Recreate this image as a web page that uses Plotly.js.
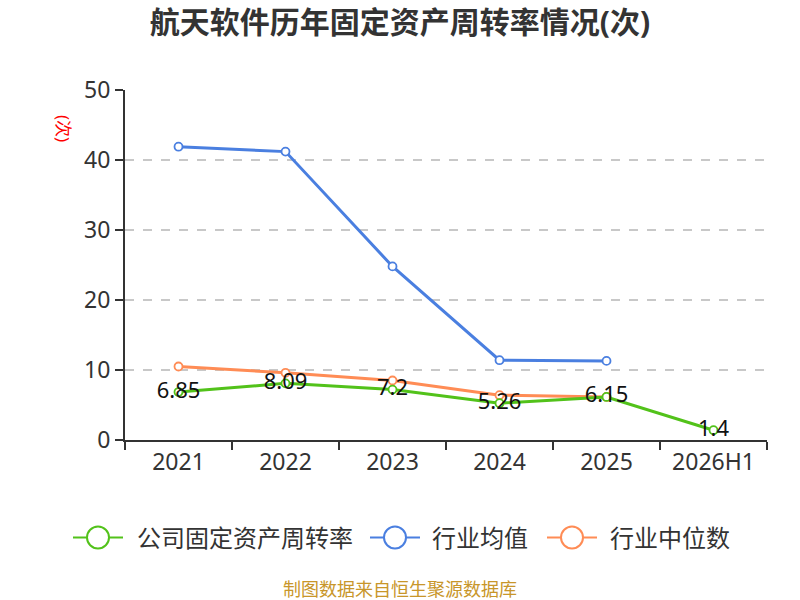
<!DOCTYPE html>
<html>
<head>
<meta charset="utf-8">
<script src="https://cdn.plot.ly/plotly-3.0.1.min.js"></script>
<style>html,body{margin:0;padding:0;background:#fff;}#chart{width:800px;height:600px;}</style>
</head>
<body>
<div id="chart"></div>
<script>
var categories = ["2021", "2022", "2023", "2024", "2025", "2026H1"];
var companyValues = [6.85, 8.09, 7.2, 5.26, 6.15, 1.4];
var industryAvg = [41.9, 41.2, 24.8, 11.4, 11.3, null];
var industryMedian = [10.5, 9.6, 8.5, 6.4, 6.15, null];
var seriesNames = ["公司固定资产周转率", "行业均值", "行业中位数"];
var yTicks = [0, 10, 20, 30, 40, 50];

var FONT = "Noto Sans, Noto Sans CJK SC, sans-serif";
var colors = ["#52c21a", "#4a7fe0", "#ff8c55"];

var M = {l: 125, r: 33, t: 90, b: 160};
var W = 800, H = 600;
var PW = W - M.l - M.r, PH = H - M.t - M.b;
function px2x(p) { return (p - M.l) / PW; }
function px2y(p) { return (H - M.b - p) / PH; }

function mk(name, y, color, withText) {
  var t = {
    type: "scatter", mode: withText ? "lines+markers+text" : "lines+markers",
    name: name, x: categories, y: y, showlegend: false,
    line: {color: color, width: 3},
    marker: {symbol: "circle", size: 8, color: "#ffffff", line: {color: color, width: 1.8}},
    cliponaxis: false
  };
  if (withText) {
    t.text = y.map(function(v){ return String(v); });
    t.textposition = "middle center";
    t.textfont = {family: FONT, size: 22, color: "#111"};
  }
  return t;
}

var data = [
  mk(seriesNames[1], industryAvg, colors[1], false),
  mk(seriesNames[2], industryMedian, colors[2], false),
  mk(seriesNames[0], companyValues, colors[0], true)
];

// custom legend (symbol start px, text start px)
var legendSlots = [[73, 135], [370, 430], [547, 608]];
var legendY = 537.5;
var shapes = [], annotations = [];
seriesNames.forEach(function(name, i) {
  var s = legendSlots[i][0];
  shapes.push({type: "line", xref: "paper", yref: "paper", x0: px2x(s), x1: px2x(s + 50),
               y0: px2y(legendY), y1: px2y(legendY), line: {color: colors[i], width: 2}});
  shapes.push({type: "circle", xref: "paper", yref: "paper", xsizemode: "pixel", ysizemode: "pixel",
               xanchor: px2x(s + 25), yanchor: px2y(legendY), x0: -11, x1: 11, y0: -11, y1: 11,
               fillcolor: "#ffffff", line: {color: colors[i], width: 2}});
  annotations.push({text: name, xref: "paper", yref: "paper", x: px2x(legendSlots[i][1]), xanchor: "left",
                    y: px2y(legendY), yanchor: "middle", showarrow: false,
                    font: {family: FONT, size: 24, color: "#333"}});
});

annotations.push({text: "(次)", xref: "paper", yref: "paper", x: px2x(63), xanchor: "center", y: px2y(128), yanchor: "middle",
     textangle: 90, showarrow: false, font: {family: FONT, size: 17, color: "#ff0000"}});
annotations.push({text: "制图数据来自恒生聚源数据库", xref: "paper", yref: "paper", x: px2x(400), xanchor: "center",
     y: px2y(589), yanchor: "middle", showarrow: false, font: {family: FONT, size: 18, color: "#c8962a"}});

var layout = {
  width: W, height: H, margin: M,
  paper_bgcolor: "#fff", plot_bgcolor: "#fff",
  title: {text: "<b>航天软件历年固定资产周转率情况(次)</b>", x: 0.5, xanchor: "center", y: 0.962, yanchor: "middle",
          font: {family: FONT, size: 30, color: "#333"}},
  xaxis: {type: "category", range: [-0.5, 5.5], tickson: "boundaries", ticks: "outside", ticklen: 8,
          tickcolor: "#333", tickwidth: 2, showline: true, linecolor: "#333", linewidth: 2,
          showgrid: false, tickfont: {family: FONT, size: 23, color: "#333"}, fixedrange: true},
  yaxis: {range: [0, 50], tickvals: yTicks, ticks: "outside", ticklen: 8, tickcolor: "#333", tickwidth: 2,
          showline: true, linecolor: "#333", linewidth: 2, showgrid: true, gridcolor: "#c8c8c8",
          griddash: "dash", gridwidth: 1.5, zeroline: false,
          tickfont: {family: FONT, size: 23, color: "#333"}, fixedrange: true},
  showlegend: false,
  shapes: shapes,
  annotations: annotations
};

Plotly.newPlot("chart", data, layout, {displayModeBar: false, staticPlot: true});
</script>
</body>
</html>
